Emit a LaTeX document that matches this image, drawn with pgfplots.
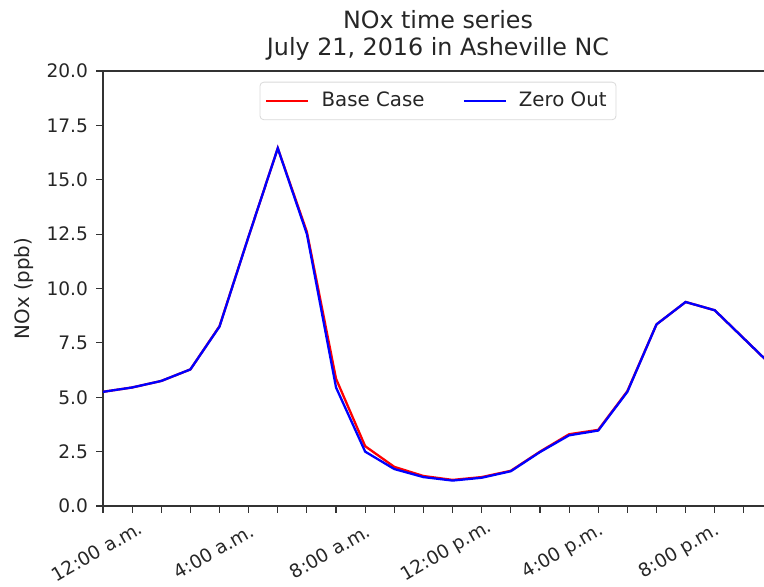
\documentclass[border=0pt]{standalone}
\usepackage{pgfplots}
\pgfplotsset{compat=1.18}
\usepackage{fontspec}
\setmainfont{DejaVu Sans}
\definecolor{txt}{HTML}{262626}
\begin{document}
\begin{tikzpicture}
\begin{axis}[
  at={(0,0)}, anchor=south west,
  scale only axis, width=335pt, height=217.5pt,
  xmin=0, xmax=23, ymin=0, ymax=20,
  xtick={0,4,8,12,16,20},
  xticklabels={12:00 a.m.,4:00 a.m.,8:00 a.m.,12:00 p.m.,4:00 p.m.,8:00 p.m.},
  minor xtick={0,1,...,23},
  ytick={0,2.5,5,7.5,10,12.5,15,17.5,20},
  xtick pos=left, ytick pos=left,
  tick align=outside,
  major tick length=3.3pt, minor tick length=3.3pt,
  every tick/.style={black!80, line width=0.55pt},
  axis line style={black!80, line width=0.55pt},
  /pgf/number format/.cd, fixed, fixed zerofill, precision=1, assume math mode=true,
  /pgfplots/.cd,
  tick label style={font=\fontsize{9.3}{11}\selectfont, text=txt},
  xticklabel style={anchor=center, xshift=-3pt, yshift=-19.5pt, rotate=30},
  yticklabel style={inner sep=1pt, xshift=-3pt},
  ylabel={NOx (ppb)},
  every axis y label/.style={at={(axis description cs:0,0.5)}, xshift=-39.5pt, rotate=90, anchor=center, font=\fontsize{9.9}{12}\selectfont, text=txt},
  title={NOx time series\\July 21, 2016 in Asheville NC},
  every axis title/.style={at={(axis description cs:0.5,1)}, anchor=south, inner sep=0pt, yshift=5.2pt, align=center, font=\fontsize{11.9}{13.5}\selectfont, text=txt},
  legend columns=2,
  legend style={at={(axis description cs:0.5,1)}, anchor=north, yshift=-5.35pt,
    draw=black!15, rounded corners=2pt, font=\fontsize{9.9}{12}\selectfont, text=txt,
    inner xsep=2.7pt, inner ysep=3pt,
    /tikz/every odd column/.append style={column sep=4pt},
    /tikz/every even column/.append style={column sep=17pt}},
  legend image code/.code={\draw[#1] (0pt,0pt) -- (21pt,0pt);},
]
\addplot[color={rgb,255:red,255;green,0;blue,0}, line width=1.15pt] coordinates {
(0,5.25) (1,5.45) (2,5.75) (3,6.28) (4,8.27) (5,12.4) (6,16.45) (7,12.6)
(8,5.85) (9,2.75) (10,1.8) (11,1.38) (12,1.2) (13,1.33) (14,1.62) (15,2.5)
(16,3.3) (17,3.5) (18,5.28) (19,8.35) (20,9.38) (21,9.0) (22,7.7) (23,6.4)
};
\addlegendentry{Base Case}
\addplot[color={rgb,255:red,0;green,0;blue,255}, line width=1.15pt] coordinates {
(0,5.25) (1,5.45) (2,5.75) (3,6.28) (4,8.25) (5,12.4) (6,16.45) (7,12.5)
(8,5.45) (9,2.5) (10,1.7) (11,1.33) (12,1.17) (13,1.3) (14,1.6) (15,2.48)
(16,3.25) (17,3.47) (18,5.25) (19,8.35) (20,9.38) (21,9.0) (22,7.7) (23,6.4)
};
\addlegendentry{Zero Out}
\end{axis}
\pgfresetboundingbox
\useasboundingbox (-51.5pt,-40pt) rectangle (330.5pt,253pt);
\end{tikzpicture}
\end{document}
